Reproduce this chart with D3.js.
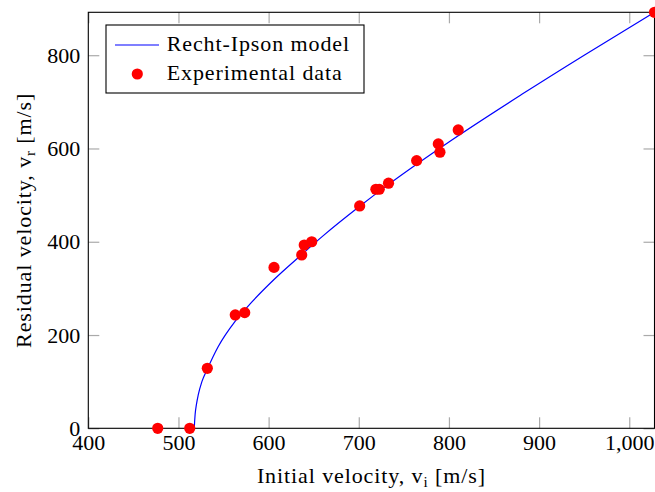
<!DOCTYPE html>
<html>
<head>
<meta charset="utf-8">
<script src="https://cdn.jsdelivr.net/npm/d3@7"></script>
<style>
  body { margin: 0; background: #fff; }
  svg text { font-family: "Liberation Serif", "Times New Roman", Tinos, Times, "DejaVu Serif", serif; fill: #000; }
</style>
</head>
<body>
<div id="chart"></div>
<script>
var w = 655,
  h = 492;

var serif = '"Liberation Serif", "Times New Roman", Tinos, Times, "DejaVu Serif", serif';

// Experimental data (initial velocity, residual velocity) in m/s
var expVi = [477, 512.5, 532, 563, 573.5, 606, 636.7, 639.5, 647.8, 701, 719, 722.7, 733, 764.2, 788.2, 790, 810.3, 1028];
var expVr = [0, 0, 128.7, 243, 248, 345, 371.7, 393, 400, 476.8, 512.6, 512.6, 525.5, 574, 609.8, 592, 639.8, 892];

// Recht-Ipson model curve
var modelVi = [517.5, 518.5, 520, 522, 526, 532, 544, 563, 581, 606, 637, 660, 701, 733, 800, 880, 950, 1028];
var modelVr = [0, 30, 52, 72, 100, 127, 175, 230, 270, 319, 373, 412, 476, 523, 614, 715, 800, 892];

var xTicks = [400, 500, 600, 700, 800, 900, 1000];
var yTicks = [0, 200, 400, 600, 800];

var plot = { left: 88.3, right: 654.5, top: 12.3, bottom: 428.3 };

var svg = d3
  .select("#chart")
  .append("svg")
  .attr("width", w)
  .attr("height", h);

var x = d3.scaleLinear().domain([400, 1028]).range([plot.left, plot.right]);
var y = d3.scaleLinear().domain([0, 892]).range([plot.bottom, plot.top]);

var fmt = d3.format(",");

// ticks (inward, mirrored on all sides)
var styleAxis = (g) => {
  g.attr("font-family", null).attr("font-size", null);
  g.select(".domain").remove();
  g.selectAll(".tick line").attr("stroke", "#aaa").attr("stroke-width", 1.2);
  g.selectAll(".tick text")
    .style("font-family", serif)
    .style("font-size", "22px")
    .attr("fill", "#000");
};

svg
  .append("g")
  .attr("transform", `translate(0,${plot.bottom})`)
  .call(d3.axisBottom(x).tickValues(xTicks).tickFormat(fmt).tickSizeInner(-11).tickSizeOuter(0).tickPadding(6))
  .call(styleAxis);

svg
  .append("g")
  .attr("transform", `translate(0,${plot.top})`)
  .call(d3.axisTop(x).tickValues(xTicks).tickFormat("").tickSizeInner(-11).tickSizeOuter(0))
  .call(styleAxis);

svg
  .append("g")
  .attr("transform", `translate(${plot.left},0)`)
  .call(d3.axisLeft(y).tickValues(yTicks).tickSizeInner(-11).tickSizeOuter(0).tickPadding(8))
  .call(styleAxis);

svg
  .append("g")
  .attr("transform", `translate(${plot.right},0)`)
  .call(d3.axisRight(y).tickValues(yTicks).tickFormat("").tickSizeInner(-11).tickSizeOuter(0))
  .call(styleAxis);

// model curve
var line = d3
  .line()
  .x((d, i) => x(d))
  .y((d, i) => y(modelVr[i]))
  .curve(d3.curveMonotoneX);

svg
  .append("path")
  .datum(modelVi)
  .attr("fill", "none")
  .attr("stroke", "#0000ff")
  .attr("stroke-width", 1.2)
  .attr("d", line);

// frame
svg
  .append("rect")
  .attr("x", plot.left)
  .attr("y", plot.top)
  .attr("width", plot.right - plot.left)
  .attr("height", plot.bottom - plot.top)
  .attr("fill", "none")
  .attr("stroke", "#000")
  .attr("stroke-width", 1.1);

// experimental points
svg
  .selectAll(".pt")
  .data(expVi)
  .enter()
  .append("circle")
  .attr("class", "pt")
  .attr("cx", (d) => x(d))
  .attr("cy", (d, i) => y(expVr[i]))
  .attr("r", 5.6)
  .attr("fill", "#ff0000");

// axis titles
var xt = svg
  .append("text")
  .attr("x", (plot.left + plot.right) / 2)
  .attr("y", 483)
  .attr("text-anchor", "middle")
  .style("font-family", serif)
  .style("font-size", "22px")
  .style("letter-spacing", "0.9px");
xt.append("tspan").text("Initial velocity, v");
xt.append("tspan").attr("dy", 4).style("font-size", "15px").text("i");
xt.append("tspan").attr("dy", -4).text(" [m/s]");

var yt = svg
  .append("text")
  .attr("transform", `translate(30.5,${(plot.top + plot.bottom) / 2}) rotate(-90)`)
  .attr("text-anchor", "middle")
  .style("font-family", serif)
  .style("font-size", "22px")
  .style("letter-spacing", "0.9px");
yt.append("tspan").text("Residual velocity, v");
yt.append("tspan").attr("dy", 4).style("font-size", "15px").text("r");
yt.append("tspan").attr("dy", -4).text(" [m/s]");

// legend
var legend = svg.append("g");
legend
  .append("rect")
  .attr("x", 106)
  .attr("y", 25)
  .attr("width", 258)
  .attr("height", 68)
  .attr("fill", "#fff")
  .attr("stroke", "#000")
  .attr("stroke-width", 1.1);
legend
  .append("line")
  .attr("x1", 115)
  .attr("x2", 159)
  .attr("y1", 45)
  .attr("y2", 45)
  .attr("stroke", "#0000ff")
  .attr("stroke-width", 1.2);
legend
  .append("circle")
  .attr("cx", 137.3)
  .attr("cy", 74)
  .attr("r", 5.6)
  .attr("fill", "#ff0000");
legend
  .append("text")
  .attr("x", 166.7)
  .attr("y", 51)
  .style("font-family", serif)
  .style("font-size", "22px")
  .style("letter-spacing", "0.9px")
  .text("Recht-Ipson model");
legend
  .append("text")
  .attr("x", 166.7)
  .attr("y", 80)
  .style("font-family", serif)
  .style("font-size", "22px")
  .style("letter-spacing", "0.9px")
  .text("Experimental data");
</script>
</body>
</html>
